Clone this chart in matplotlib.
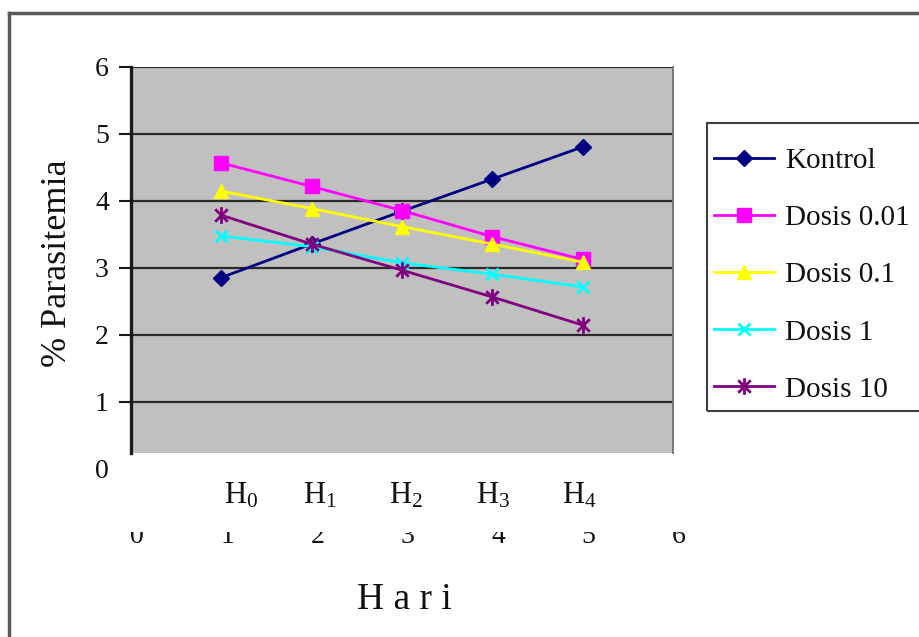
import matplotlib
matplotlib.use("Agg")
import matplotlib.pyplot as plt
from matplotlib.path import Path
from matplotlib.patches import Rectangle
from matplotlib.lines import Line2D
from matplotlib.transforms import blended_transform_factory, ScaledTranslation

plt.rcParams["font.family"] = ["Liberation Serif", "DejaVu Serif"]
plt.rcParams["mathtext.fontset"] = "custom"
plt.rcParams["mathtext.rm"] = "Liberation Serif"
plt.rcParams["mathtext.it"] = "Liberation Serif:italic"

# Observation days (x position 1..5) and % parasitemia per group
days = [1, 2, 3, 4, 5]
day_labels = ["H$_0$", "H$_1$", "H$_2$", "H$_3$", "H$_4$"]
kontrol = [2.85, 3.35, 3.84, 4.32, 4.80]
dosis_001 = [4.56, 4.21, 3.85, 3.46, 3.12]
dosis_01 = [4.14, 3.88, 3.61, 3.35, 3.08]
dosis_1 = [3.47, 3.31, 3.07, 2.90, 2.71]
dosis_10 = [3.78, 3.35, 2.96, 2.56, 2.14]
series_names = ["Kontrol", "Dosis 0.01", "Dosis 0.1", "Dosis 1", "Dosis 10"]

x_ticks = [0, 1, 2, 3, 4, 5, 6]
y_ticks = [0, 1, 2, 3, 4, 5, 6]

# asterisk-style star marker: vertical bar plus an x
star = Path([(0, -1), (0, 1), (-0.75, -0.75), (0.75, 0.75), (-0.75, 0.75), (0.75, -0.75)],
            [Path.MOVETO, Path.LINETO, Path.MOVETO, Path.LINETO, Path.MOVETO, Path.LINETO])

styles = [
    dict(color="#000080", marker="D", ms=8.5),
    dict(color="#ff00ff", marker="s", ms=9.5),
    dict(color="#ffff00", marker="^", ms=9.5),
    dict(color="#00ffff", marker="x", ms=9, mew=2),
    dict(color="#800080", marker=star, ms=12, mew=2),
]

W, H = 919, 637
fig = plt.figure(figsize=(W / 100, H / 100), dpi=100)
fig.patch.set_facecolor("white")

ax = fig.add_axes([131 / W, (H - 468.5) / H, 542 / W, 402 / H])
ax.set_xlim(0, 6)
ax.set_ylim(0, 6)
ax.patch.set_visible(False)

plot_floor = 0.23
ax.add_patch(Rectangle((0, plot_floor), 6, 6 - plot_floor, facecolor="#c0c0c0",
                       edgecolor="none", zorder=0))
for yv in y_ticks[1:]:
    ax.plot([0, 6], [yv, yv], color="#2a2a2a", lw=1.6, zorder=1, solid_capstyle="butt")

for vals, name, st in zip([kontrol, dosis_001, dosis_01, dosis_1, dosis_10], series_names, styles):
    ax.plot(days, vals, label=name, lw=2, zorder=3, mec=st["color"], **st)

for side in ["top", "bottom"]:
    ax.spines[side].set_visible(False)
ax.spines["left"].set_bounds(plot_floor, 6)
ax.spines["left"].set_linewidth(2.4)
ax.spines["left"].set_color("#1a1a1a")
ax.spines["right"].set_bounds(plot_floor, 6)
ax.spines["right"].set_linewidth(1.3)
ax.spines["right"].set_color("#707070")

ax.set_yticks(y_ticks)
ax.set_yticklabels([str(v) for v in y_ticks], fontsize=20, color="#111111")
ax.tick_params(axis="y", length=9, width=1.5, pad=7, color="#1a1a1a")
ax.yaxis.get_major_ticks()[0].tick1line.set_visible(False)

ax.set_xticks(x_ticks)
ax.set_xticklabels([str(v) for v in x_ticks], fontsize=20, color="#111111")
ax.tick_params(axis="x", length=0, pad=40)
shift = ScaledTranslation(6 / 100, 0, fig.dpi_scale_trans)
for lab in ax.get_xticklabels():
    lab.set_transform(lab.get_transform() + shift)

# day names under each observation point
trans = blended_transform_factory(ax.transData, ax.transAxes)
h_label_x = [1.22, 2.09, 3.04, 4.01, 4.96]
for xl, lab in zip(h_label_x, day_labels):
    ax.text(xl, -0.068, lab, transform=trans, ha="center", va="center",
            fontsize=22, color="#111111", zorder=20)

ax.set_ylabel("% Parasitemia", fontsize=26, color="#111111")
ax.yaxis.set_label_coords(74 / W, (H - 263) / H, transform=fig.transFigure)

fig.text(404 / W, 1 - 600 / H, "H a r i", ha="center", va="center",
         fontsize=27, color="#111111")

# strip hiding the upper part of the numeric axis labels
fig.add_artist(Rectangle((0.02, (H - 532) / H), 0.75, 19 / H, transform=fig.transFigure,
                         facecolor="white", edgecolor="none", zorder=10))

# legend entries, with a separate frame that runs past the right edge
leg = ax.legend(loc="upper left", bbox_to_anchor=(714 / W, 1 - 148 / H),
                bbox_transform=fig.transFigure, fontsize=21, frameon=False,
                borderpad=0, labelspacing=1.05, handlelength=2.05,
                handletextpad=0.4, borderaxespad=0)
for t in leg.get_texts():
    t.set_color("#111111")
fig.add_artist(Rectangle((707 / W, (H - 411) / H), 0.3, 288 / H, transform=fig.transFigure,
                         facecolor="none", edgecolor="#404040", lw=1.5, zorder=5))

# chart frame
fig.add_artist(Line2D([9 / W, 9 / W], [0, 1 - 13 / H], transform=fig.transFigure,
                      color="#5a5a5a", lw=2.5))
fig.add_artist(Line2D([9 / W, 1], [1 - 13 / H, 1 - 13 / H], transform=fig.transFigure,
                      color="#5a5a5a", lw=2.5))

fig.savefig("out.png", dpi=100, facecolor="white")
